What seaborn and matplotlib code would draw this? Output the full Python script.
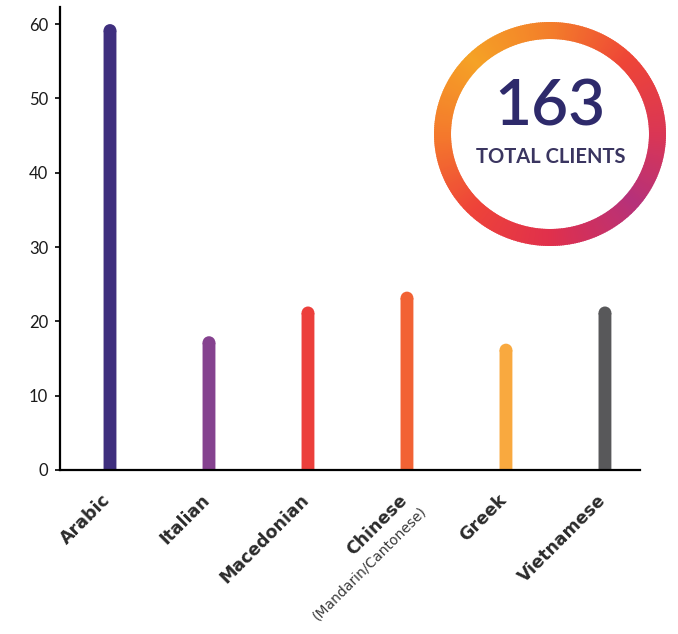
import numpy as np
import pandas as pd
import seaborn as sns
import matplotlib
matplotlib.use("Agg")
import matplotlib.pyplot as plt
from matplotlib.patches import Ellipse, Polygon
from matplotlib.colors import to_rgb
from matplotlib.transforms import ScaledTranslation

# Clients by language spoken
languages = ["Arabic", "Italian", "Macedonian", "Chinese", "Greek", "Vietnamese"]
clients = [60, 18, 22, 24, 17, 22]
bar_colors = ["#3F2F7E", "#85428F", "#EC3F3B", "#F26234", "#F9A93F", "#58585A"]
chinese_note = "(Mandarin/Cantonese)"
total_value = "163"
total_label = "TOTAL CLIENTS"
y_ticks = [0, 10, 20, 30, 40, 50, 60]

sns.set_theme(style="white")
plt.rcParams["font.family"] = ["Lato", "DejaVu Sans"]

W, H = 678, 634
fig = plt.figure(figsize=(W / 100, H / 100), dpi=100)
fig.patch.set_facecolor("white")

ax = fig.add_axes([60 / W, 1 - 470 / H, 580 / W, 463 / H])
df = pd.DataFrame({"language": languages, "clients": clients})
sns.barplot(data=df, x="language", y="clients", hue="language",
            palette=bar_colors, width=0.13, saturation=1, legend=False, ax=ax)

ax.set_xlim(-0.505, 5.354)
ax.set_ylim(0, 62.3)
ax.set_xlabel("")
ax.set_ylabel("")
ax.set_yticks(y_ticks)

# rounded caps on top of each bar
fig.canvas.draw()
px_per_unit = ax.bbox.height / (ax.get_ylim()[1] - ax.get_ylim()[0])
px_per_cat = ax.bbox.width / (ax.get_xlim()[1] - ax.get_xlim()[0])
for p in list(ax.patches):
    w = p.get_width()
    h = p.get_height()
    r_px = w * px_per_cat / 2
    r_y = r_px / px_per_unit
    p.set_height(h - r_y)
    p.set_linewidth(0)
    p.set_snap(False)
    ax.add_patch(Ellipse((p.get_x() + w / 2, h - r_y), w, 2 * r_y,
                         facecolor=p.get_facecolor(), linewidth=0))

for side in ["top", "right"]:
    ax.spines[side].set_visible(False)
for side in ["left", "bottom"]:
    ax.spines[side].set_color("black")
    ax.spines[side].set_linewidth(1.6)

ax.tick_params(axis="y", which="both", left=True, length=3.5, width=1.2,
               color="black", pad=5, labelsize=12, labelcolor="#1a1a1a")
ax.tick_params(axis="x", bottom=False, pad=0)

ax.set_xticks(range(len(languages)))
labels = ax.set_xticklabels(languages, rotation=45, ha="right", va="center",
                            rotation_mode="anchor", fontsize=12.5,
                            fontweight="bold", color="#2b2b2b",
                            fontfamily=["DejaVu Sans"])
shift = ScaledTranslation(-2 / 100, -19 / 100, fig.dpi_scale_trans)
for lab in labels:
    lab.set_transform(lab.get_transform() + shift)

# second line under the Chinese label
ax.text(3, 0, chinese_note, rotation=45, ha="right", va="center",
        rotation_mode="anchor", fontsize=10, color="#3a3a3a",
        fontfamily=["DejaVu Sans"],
        transform=ax.get_xaxis_transform() +
        ScaledTranslation(17 / 100, -39 / 100, fig.dpi_scale_trans))

# badge: gradient ring with total
ov = fig.add_axes([0, 0, 1, 1])
ov.set_xlim(0, W)
ov.set_ylim(H, 0)
ov.axis("off")
ov.patch.set_alpha(0)

cx, cy, rx, ry, thick = 550, 134, 116, 112, 17
stops = [(-180, "#F47A2C"), (-135, "#F5A226"), (-90, "#F37E2A"), (-45, "#EE4537"),
         (0, "#DA3655"), (40, "#B6317A"), (90, "#E0304C"), (135, "#EE4339"),
         (180, "#F47A2C")]
st_ang = np.array([s[0] for s in stops], float)
st_col = np.array([to_rgb(s[1]) for s in stops])
n = 360
angs = np.linspace(-180, 180, n + 1)
for a0, a1 in zip(angs[:-1], angs[1:]):
    am = (a0 + a1) / 2
    col = [np.interp(am, st_ang, st_col[:, k]) for k in range(3)]
    t = np.radians(np.linspace(a0, a1 + 0.6, 4))
    outer = np.c_[cx + rx * np.cos(t), cy + ry * np.sin(t)]
    inner = np.c_[cx + (rx - thick) * np.cos(t[::-1]), cy + (ry - thick) * np.sin(t[::-1])]
    ov.add_patch(Polygon(np.vstack([outer, inner]), closed=True,
                         facecolor=col, edgecolor="none"))

ov.text(cx, 108, total_value, ha="center", va="center", fontsize=46,
        fontweight="semibold", color="#2E2A6B")
ov.text(cx + 1, 157, total_label, ha="center", va="center", fontsize=14.5,
        fontweight="bold", color="#3A3560")

fig.savefig("out.png", dpi=100, facecolor="white")
